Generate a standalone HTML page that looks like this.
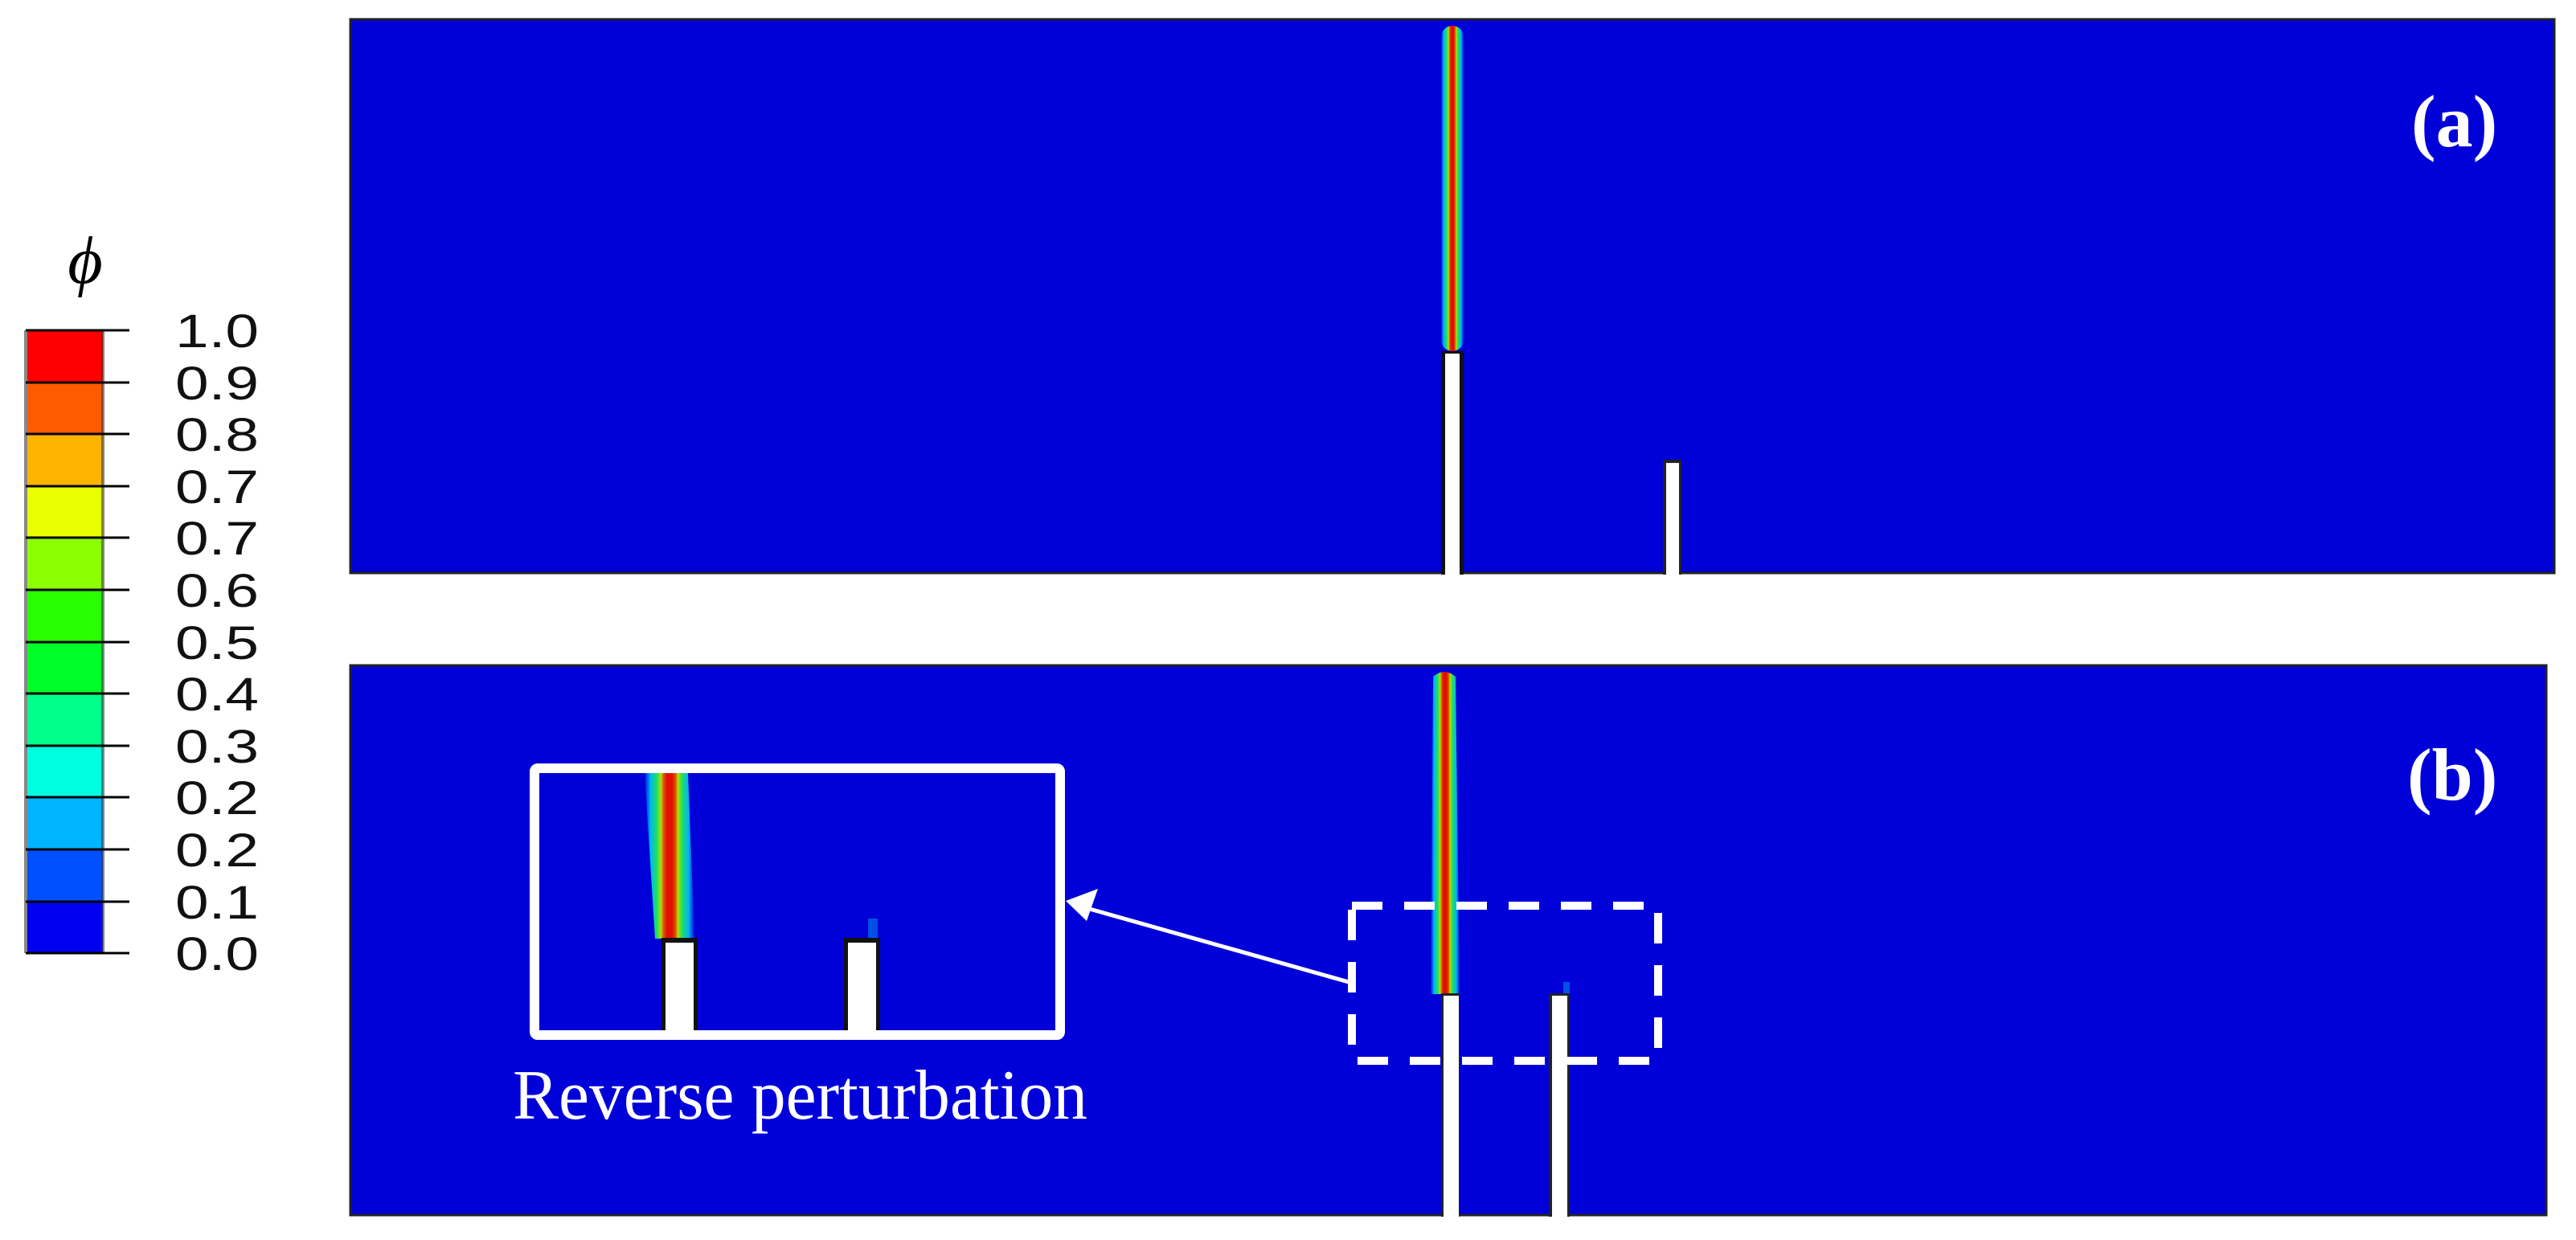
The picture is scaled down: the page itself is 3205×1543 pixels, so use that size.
<!DOCTYPE html>
<html><head><meta charset="utf-8"><style>html,body{margin:0;padding:0;background:#fff}svg{display:block}</style></head>
<body>
<svg width="3205" height="1543" viewBox="0 0 3205 1543" xmlns="http://www.w3.org/2000/svg">
<defs>
<linearGradient id="cr" x1="0" x2="1" y1="0" y2="0">
<stop offset="0" stop-color="#0010e0"/>
<stop offset="0.12" stop-color="#00b8f0"/>
<stop offset="0.25" stop-color="#20e060"/>
<stop offset="0.33" stop-color="#b0e000"/>
<stop offset="0.38" stop-color="#e05000"/>
<stop offset="0.45" stop-color="#e01000"/>
<stop offset="0.55" stop-color="#e01000"/>
<stop offset="0.62" stop-color="#e05000"/>
<stop offset="0.67" stop-color="#b0e000"/>
<stop offset="0.75" stop-color="#20e060"/>
<stop offset="0.88" stop-color="#00b8f0"/>
<stop offset="1" stop-color="#0010e0"/>
</linearGradient>
</defs>
<!-- Colorbar -->
<text x="106" y="352" font-family="Liberation Serif, serif" font-style="italic" font-size="84" text-anchor="middle" fill="#000">ϕ</text>
<g stroke="none">
<rect x="32" y="411" width="96" height="65" fill="#ff0000"/>
<rect x="32" y="476" width="96" height="64" fill="#ff5a00"/>
<rect x="32" y="540" width="96" height="65" fill="#ffb400"/>
<rect x="32" y="605" width="96" height="64" fill="#e8ff00"/>
<rect x="32" y="669" width="96" height="65" fill="#8cff00"/>
<rect x="32" y="734" width="96" height="65" fill="#28ff00"/>
<rect x="32" y="799" width="96" height="64" fill="#00ff28"/>
<rect x="32" y="863" width="96" height="65" fill="#00ff8c"/>
<rect x="32" y="928" width="96" height="64" fill="#00ffe0"/>
<rect x="32" y="992" width="96" height="65" fill="#00b4ff"/>
<rect x="32" y="1057" width="96" height="65" fill="#0050ff"/>
<rect x="32" y="1122" width="96" height="64" fill="#0000f0"/>
</g>
<rect x="30" y="411" width="4" height="775" fill="#888"/>
<rect x="126" y="411" width="4" height="775" fill="#333" opacity="0.6"/>
<g stroke="#000" stroke-width="3">
<line x1="32" x2="161" y1="411" y2="411"/><line x1="32" x2="161" y1="476" y2="476"/><line x1="32" x2="161" y1="540" y2="540"/><line x1="32" x2="161" y1="605" y2="605"/><line x1="32" x2="161" y1="669" y2="669"/><line x1="32" x2="161" y1="734" y2="734"/><line x1="32" x2="161" y1="799" y2="799"/><line x1="32" x2="161" y1="863" y2="863"/><line x1="32" x2="161" y1="928" y2="928"/><line x1="32" x2="161" y1="992" y2="992"/><line x1="32" x2="161" y1="1057" y2="1057"/><line x1="32" x2="161" y1="1122" y2="1122"/><line x1="32" x2="161" y1="1186" y2="1186"/>
</g>
<g font-family="Liberation Sans, sans-serif" font-size="58" fill="#111">
<text x="218" y="432" textLength="104" lengthAdjust="spacingAndGlyphs">1.0</text>
<text x="218" y="497" textLength="104" lengthAdjust="spacingAndGlyphs">0.9</text>
<text x="218" y="561" textLength="104" lengthAdjust="spacingAndGlyphs">0.8</text>
<text x="218" y="626" textLength="104" lengthAdjust="spacingAndGlyphs">0.7</text>
<text x="218" y="690" textLength="104" lengthAdjust="spacingAndGlyphs">0.7</text>
<text x="218" y="755" textLength="104" lengthAdjust="spacingAndGlyphs">0.6</text>
<text x="218" y="820" textLength="104" lengthAdjust="spacingAndGlyphs">0.5</text>
<text x="218" y="884" textLength="104" lengthAdjust="spacingAndGlyphs">0.4</text>
<text x="218" y="949" textLength="104" lengthAdjust="spacingAndGlyphs">0.3</text>
<text x="218" y="1013" textLength="104" lengthAdjust="spacingAndGlyphs">0.2</text>
<text x="218" y="1078" textLength="104" lengthAdjust="spacingAndGlyphs">0.2</text>
<text x="218" y="1143" textLength="104" lengthAdjust="spacingAndGlyphs">0.1</text>
<text x="218" y="1207" textLength="104" lengthAdjust="spacingAndGlyphs">0.0</text>
</g>

<!-- Panel a -->
<rect x="436" y="24" width="2742" height="689" fill="#0000d8" stroke="#222" stroke-width="3"/>
<rect x="1793" y="32" width="28" height="405" rx="14" fill="url(#cr)"/>
<rect x="1793" y="437" width="28" height="278" fill="#111"/>
<rect x="1798" y="440" width="18" height="275" fill="#fff"/>
<rect x="2069" y="572" width="23" height="143" fill="#222"/>
<rect x="2073" y="576" width="16" height="139" fill="#fff"/>
<text x="3000" y="182" font-family="Liberation Serif, serif" font-weight="bold" font-size="92" fill="#fff">(a)</text>

<!-- Panel b -->
<rect x="436" y="828" width="2732" height="684" fill="#0000d8" stroke="#222" stroke-width="3"/>
<path d="M1783,842 Q1797,830 1811,842 L1816,1237 L1780,1237 Z" fill="url(#cr)"/>
<rect x="1793" y="1236" width="23" height="278" fill="#222"/>
<rect x="1796" y="1239" width="19" height="275" fill="#fff"/>
<rect x="1927" y="1236" width="26" height="278" fill="#222"/>
<rect x="1931" y="1239" width="19" height="275" fill="#fff"/>
<rect x="1945" y="1222" width="8" height="14" fill="#0050e8"/>
<!-- dashed box -->
<rect x="1682" y="1127" width="381" height="193" fill="none" stroke="#fff" stroke-width="10" stroke-dasharray="38,27"/>
<!-- inset -->
<rect x="665" y="956" width="654" height="332" rx="4" fill="#0000d8" stroke="#fff" stroke-width="12"/>
<path d="M802,962 L856,962 L864,1168 L815,1168 Z" fill="url(#cr)"/>
<rect x="823" y="1167" width="45" height="115" fill="#111"/>
<rect x="828" y="1173" width="35" height="109" fill="#fff"/>
<rect x="1050" y="1167" width="45" height="115" fill="#111"/>
<rect x="1055" y="1173" width="35" height="109" fill="#fff"/>
<rect x="1080" y="1143" width="12" height="24" fill="#0050e8"/>
<!-- arrow -->
<line x1="1678" y1="1222" x2="1345" y2="1128" stroke="#fff" stroke-width="5"/>
<polygon points="1326,1121 1366,1106 1352,1146" fill="#fff"/>
<text x="638" y="1392" font-family="Liberation Serif, serif" font-size="88" fill="#fff" textLength="715" lengthAdjust="spacingAndGlyphs">Reverse perturbation</text>
<text x="2995" y="995" font-family="Liberation Serif, serif" font-weight="bold" font-size="92" fill="#fff">(b)</text>
</svg>
</body></html>
